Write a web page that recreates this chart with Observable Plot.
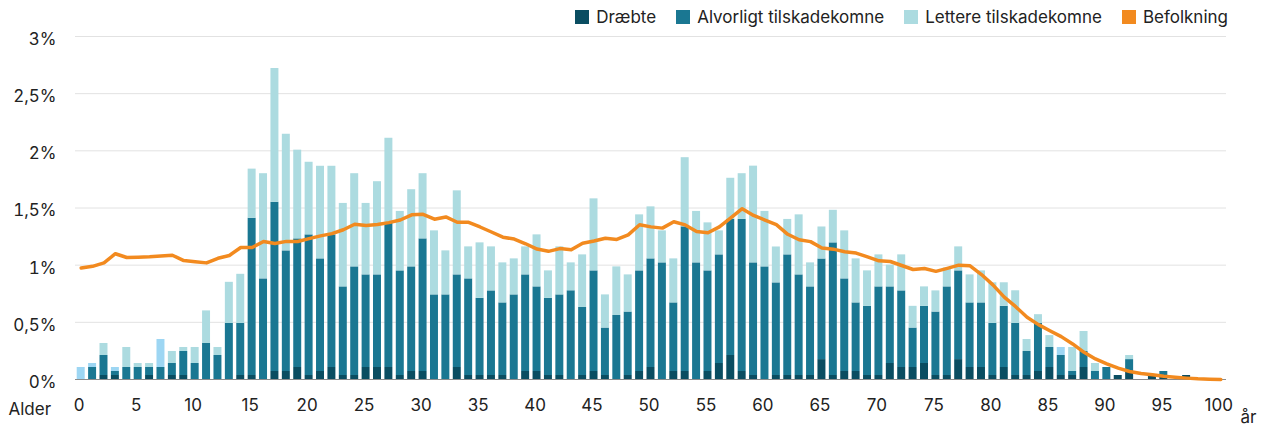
<!DOCTYPE html>
<html><head><meta charset="utf-8">
<script src="https://cdn.jsdelivr.net/npm/d3@7"></script>
<script src="https://cdn.jsdelivr.net/npm/@observablehq/plot@0.6"></script>
<style>
body{margin:0;background:#fff;font-family:Inter,"Noto Sans",sans-serif;}
#wrap{position:relative;width:1265px;height:430px;}
#legend{position:absolute;top:7px;right:37px;display:flex;align-items:center;font-size:17px;color:#222;}
.item{display:flex;align-items:center;margin-left:20px;}
.sw{width:14px;height:14px;margin-right:7px;}
</style>
</head><body>
<div id="wrap"><div id="legend"></div><div id="chart"></div></div>
<script>
// Ages 0..100
const ages = d3.range(0, 101);
const xTicks = d3.range(0, 101, 5);
const yTicks = [0, 0.5, 1, 1.5, 2, 2.5, 3];

const seriesNames = ["Dræbte", "Alvorligt tilskadekomne", "Lettere tilskadekomne", "Uoplyst"];
const seriesColors = ["#0a4d61", "#1a7792", "#acdbe0", "#9dd6f3"];
const lineName = "Befolkning";
const lineColor = "#f28a1f";

// Share of casualties (%) by age
const draebte = [0,0,.035,.035,0,0,.035,0,.035,.035,0,0,0,0,.035,.035,0,.07,.07,.105,
  .035,.07,.105,.035,.035,.105,.105,.105,.035,.07,.07,0,0,.105,.035,.035,.035,.035,0,.07,
  .07,.035,.035,0,.035,.07,.035,0,.035,.07,.105,0,.07,.07,0,.07,.14,.21,.07,.035,
  0,.035,.035,.035,.035,.174,.035,.07,.07,.035,.035,.14,.105,.105,.14,.035,.035,.174,.105,.105,
  .035,.105,.035,.035,.07,.105,.035,.035,.105,0,0,.035,.07,0,.035,.035,0,.035,0,0,0];
const alvorligt = [0,.105,.175,.035,.105,.105,.07,.105,.105,.21,.14,.315,.21,.49,.455,1.375,.88,1.48,1.055,1.125,
  1.23,.985,1.16,.775,.95,.81,.81,1.265,.915,.915,1.16,.74,.74,.81,.845,.675,.74,.635,.74,.845,
  .74,.675,.705,.776,.595,.88,.415,.56,.555,.88,.95,1.02,.60,1.265,1.02,.88,.95,1.19,1.33,.985,
  .985,.81,1.055,.88,.775,.88,1.16,.81,.60,.605,.775,.67,.67,.345,.50,.555,.775,.776,.565,.565,
  .455,.535,.455,.21,.42,.175,.175,.035,.14,.07,.105,0,.104,0,0,.035,0,0,0,0,0];
const lettere = [0,0,.105,0,.175,.035,.035,0,.105,.035,.14,.285,.07,.36,.43,.43,.92,1.17,1.02,.776,
  .635,.81,.60,.73,.815,.625,.815,.74,.52,.675,.57,.56,.385,.735,.28,.485,.385,.35,.315,.245,
  .455,.24,.42,.244,.46,.63,.29,.425,.325,.49,.455,.28,.385,.605,.45,.42,.21,.36,.40,.846,
  .485,.314,.31,.525,.21,.28,.285,.42,.385,.31,.28,.19,.315,.19,.17,.185,.165,.21,.245,.28,
  .356,.206,.286,.105,.077,.104,0,.21,.175,.07,0,0,.036,0,0,0,0,0,0,0,0];
const uoplyst = [.105,.035,0,.035,0,0,0,.245,0,0,0,0,0,0,0,0,0,0,0,0,
  0,0,0,0,0,0,0,0,0,0,0,0,0,0,0,0,0,0,0,0,
  0,0,0,0,0,0,0,0,0,0,0,0,0,0,0,0,0,0,0,0,
  0,0,0,0,0,0,0,0,0,0,0,0,0,0,0,0,0,0,0,0,
  0,0,0,0,0,0,.07,0,0,0,0,0,0,0,0,0,0,0,0,0,0];
// Population share (%) by age
const befolkning = [.975,.99,1.02,1.10,1.067,1.07,1.073,1.08,1.087,1.04,1.03,1.02,1.06,1.085,1.155,1.155,1.207,1.19,1.208,1.207,
  1.232,1.256,1.276,1.31,1.358,1.346,1.355,1.372,1.395,1.44,1.445,1.402,1.422,1.375,1.375,1.334,1.29,1.245,1.228,1.187,
  1.141,1.121,1.145,1.134,1.192,1.211,1.235,1.225,1.265,1.353,1.335,1.324,1.38,1.352,1.294,1.284,1.335,1.413,1.494,1.435,
  1.395,1.354,1.27,1.222,1.206,1.15,1.14,1.118,1.106,1.073,1.038,1.032,.997,.962,.971,.946,.972,1.0,.994,.918,
  .828,.72,.637,.544,.48,.427,.375,.311,.238,.18,.137,.099,.07,.052,.041,.029,.02,.012,.006,.003,0];

const seriesValues = [draebte, alvorligt, lettere, uoplyst];
const bars = [];
seriesValues.forEach((vals, si) => {
  ages.forEach((a, i) => { if (vals[i] > 0) bars.push({age: a, series: seriesNames[si], value: vals[i]}); });
});
const pop = ages.map((a, i) => ({age: a, value: befolkning[i]}));

const fmt = d => String(d).replace(".", ",") + "%";

const chart = Plot.plot({
  width: 1265, height: 430,
  marginTop: 36, marginBottom: 51, marginLeft: 75, marginRight: 39,
  style: {fontFamily: "Inter, 'Noto Sans', sans-serif", fontSize: "17px", color: "#222", background: "transparent", overflow: "visible"},
  x: {type: "band", domain: ages, paddingInner: 0.3, paddingOuter: 0.15, axis: null},
  y: {domain: [0, 3], axis: null},
  color: {domain: seriesNames, range: seriesColors},
  marks: [
    Plot.gridY(yTicks, {stroke: "#e2e2e2", strokeOpacity: 1}),
    Plot.axisY(yTicks, {tickSize: 0, tickPadding: 19, tickFormat: fmt, fontSize: 17, dy: 3, label: null}),
    Plot.axisX(xTicks, {tickSize: 0, tickPadding: 19, fontSize: 17, dx: -2, label: null}),
    Plot.barY(bars, {x: "age", y: "value", fill: "series"}),
    Plot.ruleY([0], {stroke: "#8c8c8c", strokeWidth: 1.2}),
    Plot.line(pop, {x: "age", y: "value", stroke: lineColor, strokeWidth: 3.5, strokeLinejoin: "round"}),
    Plot.text(["Alder"], {frameAnchor: "bottom-left", text: d => d, textAnchor: "start", dx: -67, dy: 35, fontSize: 17, fill: "#222"}),
    Plot.text(["år"], {frameAnchor: "bottom-right", text: d => d, textAnchor: "start", dx: 14, dy: 43, fontSize: 17, fill: "#222"})
  ]
});
document.getElementById("chart").appendChild(chart);

const legend = document.getElementById("legend");
const legendItems = [[seriesNames[0], seriesColors[0]], [seriesNames[1], seriesColors[1]], [seriesNames[2], seriesColors[2]], [lineName, lineColor]];
legendItems.forEach(([n, c]) => {
  const it = document.createElement("div"); it.className = "item";
  const sw = document.createElement("span"); sw.className = "sw"; sw.style.background = c;
  const tx = document.createElement("span"); tx.textContent = n;
  it.appendChild(sw); it.appendChild(tx); legend.appendChild(it);
});
</script>
</body></html>
